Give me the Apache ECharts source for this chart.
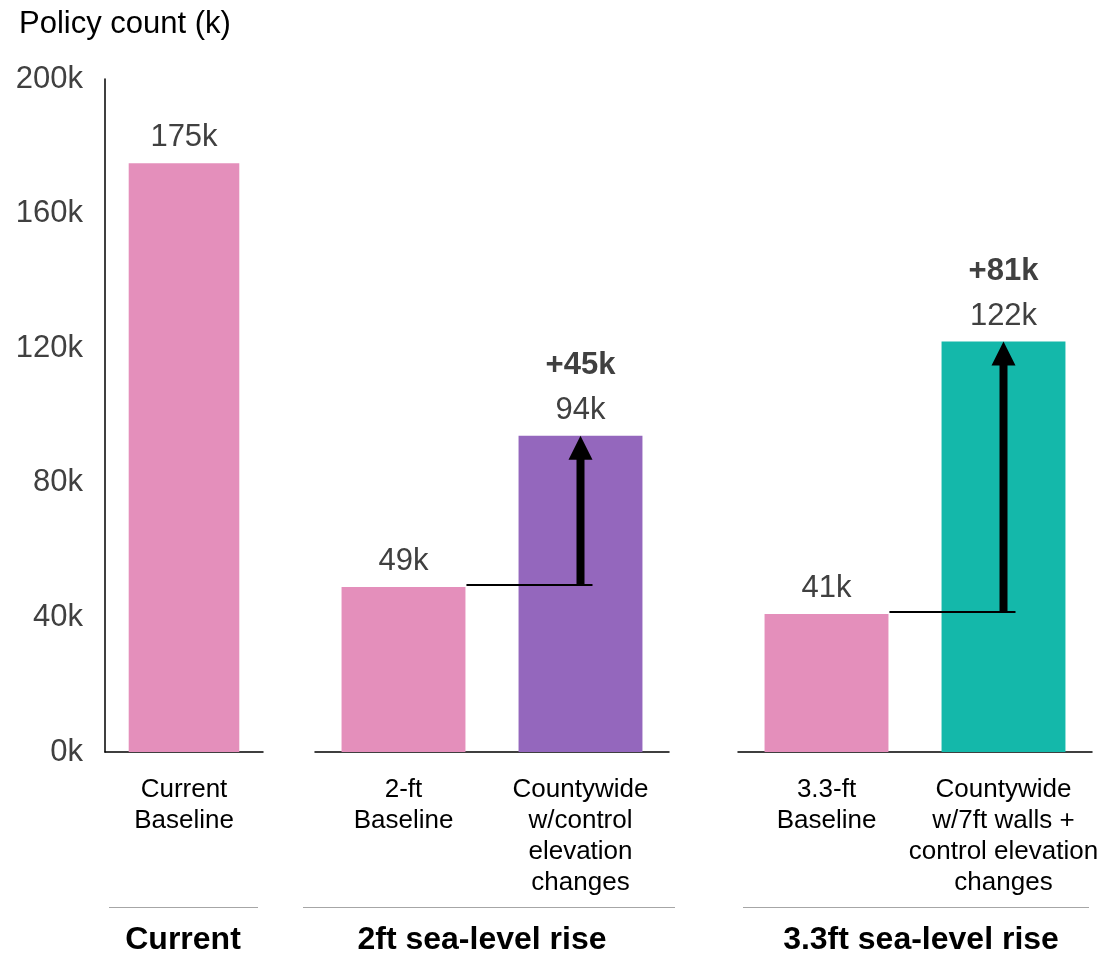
<!DOCTYPE html>
<html>
<head>
<meta charset="utf-8">
<script src="https://cdn.jsdelivr.net/npm/echarts@6/dist/echarts.min.js"></script>
<style>
  html, body { margin: 0; padding: 0; background: #fff; }
  #chart { width: 1104px; height: 953px; }
</style>
</head>
<body>
<div id="chart"></div>
<script>
// categories per group
const currentCats = ['Current\nBaseline'];
const ft2Cats = ['2-ft\nBaseline', 'Countywide\nw/control\nelevation\nchanges'];
const ft33Cats = ['3.3-ft\nBaseline', 'Countywide\nw/7ft walls +\ncontrol elevation\nchanges'];

// policy counts (k)
const currentValues = [175];
const ft2Values = [49, 94];
const ft33Values = [41, 122];

const groupNames = ['Current', '2ft sea-level rise', '3.3ft sea-level rise'];
const yTicks = [0, 40, 80, 120, 160, 200];

const pink = '#E48FBB';
const purple = '#9467BD';
const teal = '#14B8AA';
const font = 'Liberation Sans, Arial, sans-serif';

const chart = echarts.init(document.getElementById('chart'));

function xAxisFor(gridIndex, cats) {
  return {
    type: 'category',
    gridIndex: gridIndex,
    data: cats,
    axisLine: { lineStyle: { color: '#000', width: 1.5 } },
    axisTick: { show: false },
    axisLabel: {
      interval: 0, color: '#000', fontSize: 26, fontFamily: font,
      lineHeight: 31, margin: 22, align: 'center'
    }
  };
}

function yAxisFor(gridIndex, show) {
  return {
    type: 'value',
    gridIndex: gridIndex,
    min: yTicks[0],
    max: yTicks[yTicks.length - 1],
    interval: 40,
    show: show,
    splitLine: { show: false },
    axisTick: { show: false },
    axisLine: { show: true, lineStyle: { color: '#000', width: 1.5 } },
    axisLabel: {
      formatter: '{value}k', color: '#404040', fontSize: 31,
      fontFamily: font, margin: 22
    }
  };
}

function barSeries(idx, values, colors) {
  return {
    type: 'bar',
    xAxisIndex: idx,
    yAxisIndex: idx,
    barWidth: '70%',
    data: values.map((v, i) => ({ value: v, itemStyle: { color: colors[i] } })),
    label: {
      show: true, position: 'top', distance: 10,
      formatter: '{c}k', color: '#404040', fontSize: 31, fontFamily: font
    }
  };
}

// arrow from baseline bar level up to the scenario bar top
function arrowSeries(idx, values) {
  return {
    type: 'custom',
    xAxisIndex: idx,
    yAxisIndex: idx,
    z: 5,
    encode: { x: 0, y: [1, 2] },
    data: [[1, values[0], values[1]]],
    renderItem: function (params, api) {
      const cat = api.value(0);
      const from = api.value(1), to = api.value(2);
      const band = api.size([1, 0])[0];
      const base = api.coord([cat - 1, from]);
      const top = api.coord([cat, to]);
      const ax = top[0];
      const head = 24;
      return {
        type: 'group',
        children: [
          { type: 'line', shape: { x1: base[0] + band * 0.35 + 1, y1: base[1] - 2, x2: ax + 12, y2: base[1] - 2 },
            style: { stroke: '#000', lineWidth: 2 } },
          { type: 'rect', shape: { x: ax - 4, y: top[1] + head - 1, width: 8, height: base[1] - 2 - top[1] - head + 1 },
            style: { fill: '#000' } },
          { type: 'polygon', shape: { points: [[ax, top[1]], [ax - 12, top[1] + head], [ax + 12, top[1] + head]] },
            style: { fill: '#000' } },
          { type: 'text', style: { text: '+' + (to - from) + 'k', x: ax, y: top[1] - 70,
              align: 'center', verticalAlign: 'middle', fill: '#404040',
              font: 'bold 31px ' + font } }
        ]
      };
    }
  };
}

const option = {
  animation: false,
  title: {
    text: 'Policy count (k)',
    left: 14, top: 4,
    textStyle: { color: '#000', fontSize: 31, fontWeight: 'normal', fontFamily: font }
  },
  grid: [
    { left: 105, width: 158, top: 79, height: 673 },
    { left: 315, width: 354, top: 79, height: 673 },
    { left: 738, width: 354, top: 79, height: 673 }
  ],
  xAxis: [xAxisFor(0, currentCats), xAxisFor(1, ft2Cats), xAxisFor(2, ft33Cats)],
  yAxis: [yAxisFor(0, true), yAxisFor(1, false), yAxisFor(2, false)],
  series: [
    barSeries(0, currentValues, [pink]),
    barSeries(1, ft2Values, [pink, purple]),
    barSeries(2, ft33Values, [pink, teal]),
    arrowSeries(1, ft2Values),
    arrowSeries(2, ft33Values)
  ],
  graphic: [
    { type: 'line', shape: { x1: 109, y1: 907.5, x2: 258, y2: 907.5 }, style: { stroke: '#a6a6a6', lineWidth: 1 } },
    { type: 'line', shape: { x1: 303, y1: 907.5, x2: 675, y2: 907.5 }, style: { stroke: '#a6a6a6', lineWidth: 1 } },
    { type: 'line', shape: { x1: 743, y1: 907.5, x2: 1089, y2: 907.5 }, style: { stroke: '#a6a6a6', lineWidth: 1 } },
    { type: 'text', x: 183, y: 940, style: { text: groupNames[0], align: 'center', verticalAlign: 'middle', fill: '#000', font: 'bold 32px ' + font } },
    { type: 'text', x: 482, y: 940, style: { text: groupNames[1], align: 'center', verticalAlign: 'middle', fill: '#000', font: 'bold 32px ' + font } },
    { type: 'text', x: 921, y: 940, style: { text: groupNames[2], align: 'center', verticalAlign: 'middle', fill: '#000', font: 'bold 32px ' + font } }
  ]
};

chart.setOption(option);
</script>
</body>
</html>
